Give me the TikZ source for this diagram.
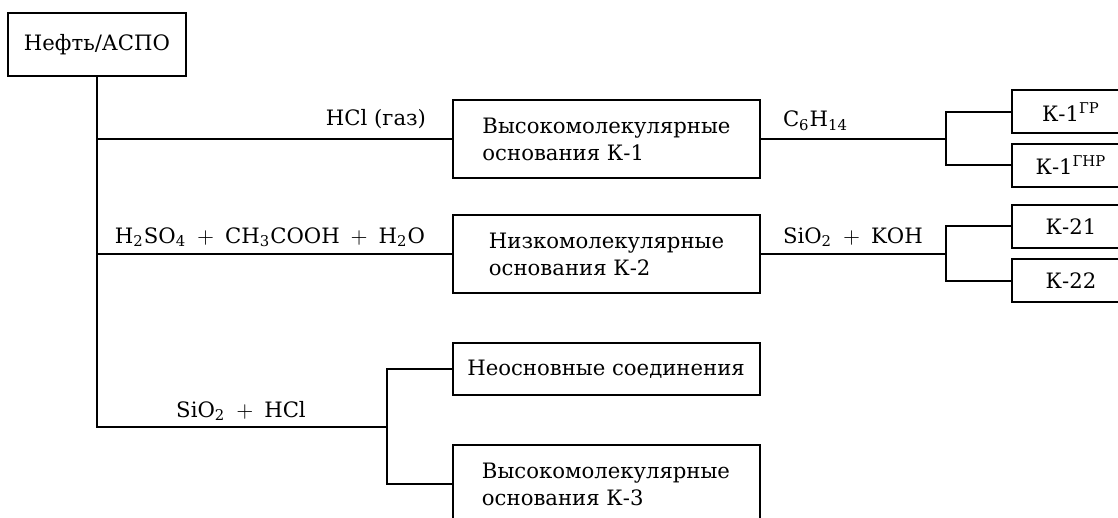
\documentclass[tikz,border=0pt]{standalone}
\usepackage{fontspec}
\setmainfont{DejaVu Serif}
\usepackage{amsmath}

\newcommand{\plus}{\;+\;}

\tikzset{
  basebox/.style={draw, line width=1pt, inner sep=2pt},
  mainbox/.style={basebox, minimum width=153.5pt, minimum height=39pt, align=left},
  subbox/.style={basebox, minimum width=59pt, minimum height=21.5pt},
  reagent/.style={inner sep=0pt}
}

\begin{document}
\begin{tikzpicture}[x=0.5pt, y=-0.5pt, line width=1pt, font=\fontsize{10.6}{13.5}\selectfont]
    \useasboundingbox (0,0) rectangle (1118,518);
    \clip (0,0) rectangle (1118,518);

    % Source
    \node[basebox, minimum width=89pt, minimum height=31.5pt] (oil) at (97,44.5) {Нефть/АСПО};

    % Fractions
    \node[mainbox] (k1) at (606.5,139) {Высокомолекулярные\\основания К-1};
    \node[mainbox] (k2) at (606.5,254) {Низкомолекулярные\\основания К-2};
    \node[mainbox, minimum height=26pt] (neutral) at (606,369) {Неосновные соединения};
    \node[mainbox] (k3) at (606,484) {Высокомолекулярные\\основания К-3};

    % Subfractions
    \node[subbox] (k1gr) at (1071,112) {К-1\textsuperscript{ГР}};
    \node[subbox] (k1gnr) at (1071,165.5) {К-1\textsuperscript{ГНР}};
    \node[subbox] (k21) at (1071,226.5) {К-21};
    \node[subbox] (k22) at (1071,280.5) {К-22};

    % Branch points
    \coordinate (split3) at (387,427);
    \coordinate (fork1) at (946,139);
    \coordinate (fork2) at (946,254);

    % Connectors
    \draw (oil.south) |- (k1.west);
    \draw (oil.south) |- (k2.west);
    \draw (oil.south) |- (split3);
    \draw (neutral.west) -| (split3) |- (k3.west);
    \draw (k1.east) -- (fork1);
    \draw (k1gr.west) -| (fork1) |- (k1gnr.west);
    \draw (k2.east) -- (fork2);
    \draw (k21.west) -| (fork2) |- (k22.west);

    % Reagents
    \node[reagent, anchor=base east] (hcl) at (427,126) {HCl (газ)};
    \node[reagent, anchor=base east] (acid) at (426,243) {$\mathrm{H_2SO_4}\plus\mathrm{CH_3COOH}\plus\mathrm{H_2O}$};
    \node[reagent, anchor=base] (sihcl) at (241,417) {$\mathrm{SiO_2}\plus\mathrm{HCl}$};
    \node[reagent, anchor=base west] (hexane) at (782,127) {$\mathrm{C_6H_{14}}$};
    \node[reagent, anchor=base west] (sikoh) at (782,243) {$\mathrm{SiO_2}\plus\mathrm{KOH}$};
\end{tikzpicture}
\end{document}
